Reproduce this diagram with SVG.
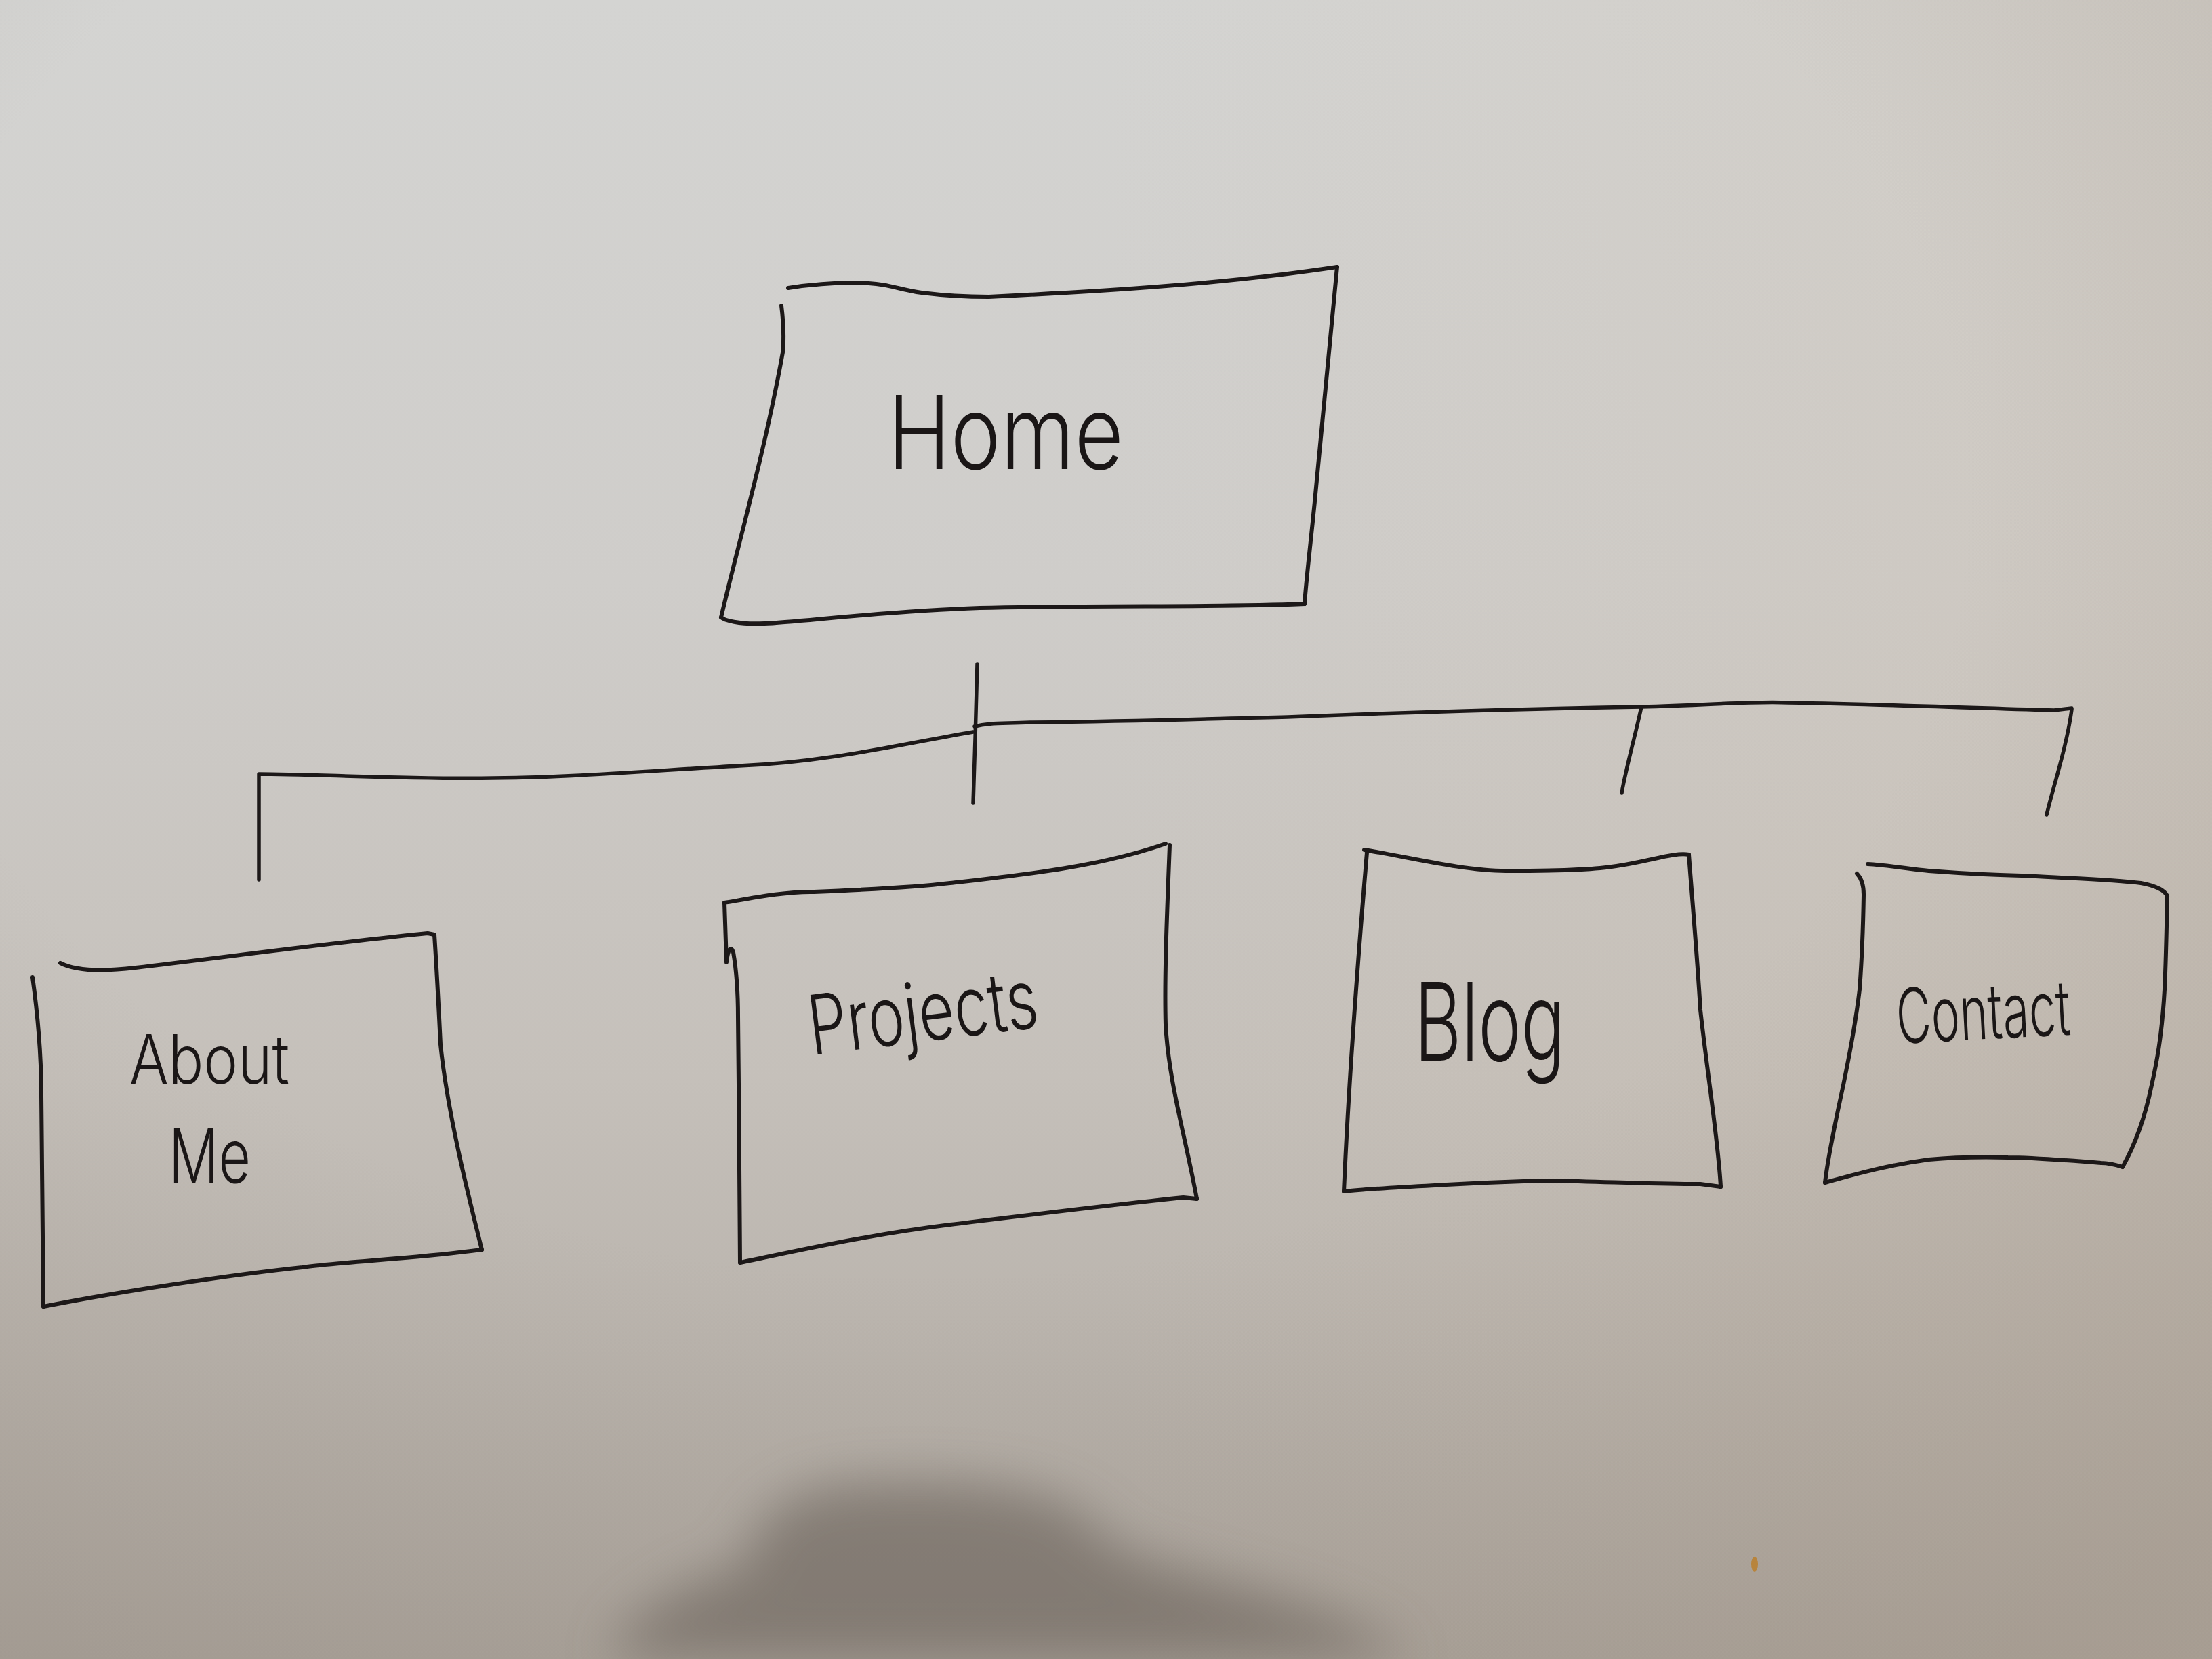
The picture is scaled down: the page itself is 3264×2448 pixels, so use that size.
<svg xmlns="http://www.w3.org/2000/svg" width="3264" height="2448" viewBox="0 0 3264 2448">
  <defs>
    <linearGradient id="paper" x1="0" y1="0" x2="0" y2="1">
      <stop offset="0" stop-color="#d4d4d2"/>
      <stop offset="0.35" stop-color="#cfcdca"/>
      <stop offset="0.65" stop-color="#c5c0ba"/>
      <stop offset="1" stop-color="#aca59d"/>
    </linearGradient>
    <radialGradient id="vignette" cx="0.42" cy="0.3" r="0.85">
      <stop offset="0.55" stop-color="#8a7f74" stop-opacity="0"/>
      <stop offset="1" stop-color="#8a7f74" stop-opacity="0.3"/>
    </radialGradient>
    <linearGradient id="warm" x1="0" y1="0" x2="1" y2="0">
      <stop offset="0.5" stop-color="#c9b8a4" stop-opacity="0"/>
      <stop offset="1" stop-color="#c9b8a4" stop-opacity="0.25"/>
    </linearGradient>
    <filter id="soft" x="-50%" y="-50%" width="200%" height="200%">
      <feGaussianBlur stdDeviation="38"/>
    </filter>
    <style>
      .ink { fill: none; stroke: #1c1818; stroke-width: 6; stroke-linecap: round; stroke-linejoin: round; }
      .wire { fill: none; stroke: #1c1818; stroke-width: 5.5; stroke-linecap: round; stroke-linejoin: round; }
      .label { fill: #1a1616; font-family: Inter, Lato, "Noto Sans", "Liberation Sans", sans-serif; font-weight: 300; }
    </style>
  </defs>

  <!-- sheet of paper with uneven lighting -->
  <rect width="3264" height="2448" fill="url(#paper)"/>
  <rect width="3264" height="2448" fill="url(#warm)"/>
  <rect width="3264" height="2448" fill="url(#vignette)"/>
  <!-- camera shadow falling on the lower edge -->
  <path d="M900,2448 C920,2390 1000,2340 1100,2310 C1110,2250 1150,2200 1250,2190 C1430,2178 1580,2195 1620,2260 C1680,2330 1950,2340 2080,2448 Z" fill="#6c635b" opacity="0.62" filter="url(#soft)"/>
  <ellipse cx="2589" cy="2308" rx="5" ry="11" fill="#b8843c"/>

  <!-- connectors -->
  <g id="connectors">
    <path class="wire" d="M1442,980 C1441,1020 1440,1060 1439,1090 C1438,1130 1437,1160 1436,1185"/>
    <path class="wire" d="M1436,1080 C1330,1098 1220,1125 1091,1130 C950,1138 820,1148 727,1148 C600,1150 460,1142 382,1142 L382,1298"/>
    <path class="wire" d="M1438,1072 C1460,1066 1480,1068 1520,1066 C1700,1064 1800,1060 1900,1058 C2100,1050 2300,1045 2422,1043 C2520,1041 2590,1034 2639,1037 C2800,1040 2950,1046 3031,1048 L3057,1045"/>
    <path class="wire" d="M2422,1043 C2412,1090 2400,1130 2393,1170"/>
    <path class="wire" d="M3057,1047 C3050,1100 3030,1160 3020,1202"/>
  </g>

  <!-- Home -->
  <g id="node-home">
    <path class="ink" d="M1163,425 C1190,421 1240,414 1293,419 C1320,422 1330,428 1360,432 C1400,437 1430,438 1459,438 C1620,430 1800,420 1973,394"/>
    <path class="ink" d="M1973,394 C1962,520 1950,640 1940,740 C1933,810 1927,860 1925,891"/>
    <path class="ink" d="M1925,891 C1820,896 1620,893 1446,897 C1300,902 1180,918 1128,920 C1090,922 1068,915 1064,911"/>
    <path class="ink" d="M1153,451 C1156,475 1157,500 1155,520 C1130,660 1090,800 1064,911"/>
    <text class="label" x="1310" y="692" font-size="150" textLength="348" lengthAdjust="spacingAndGlyphs">Home</text>
  </g>

  <!-- About Me -->
  <g id="node-about">
    <path class="ink" d="M89,1421 C110,1432 150,1434 200,1428 C350,1410 500,1390 631,1377 L641,1379"/>
    <path class="ink" d="M641,1379 C645,1440 648,1500 650,1541 C660,1640 690,1760 711,1844"/>
    <path class="ink" d="M711,1844 L695,1846 C600,1858 500,1862 446,1870 C350,1880 180,1905 64,1928"/>
    <path class="ink" d="M48,1442 C56,1500 61,1560 61,1618 C62,1720 63,1830 64,1928"/>
    <text class="label" x="191" y="1599" font-size="100" textLength="236" lengthAdjust="spacingAndGlyphs">About</text>
    <text class="label" x="249" y="1745" font-size="110" textLength="121" lengthAdjust="spacingAndGlyphs">Me</text>
  </g>

  <!-- Projects -->
  <g id="node-projects">
    <path class="ink" d="M1069,1332 C1110,1325 1160,1315 1201,1316 C1300,1312 1360,1308 1402,1303 C1500,1292 1620,1280 1720,1245"/>
    <path class="ink" d="M1726,1247 C1722,1350 1718,1440 1720,1512 C1725,1600 1750,1680 1766,1769"/>
    <path class="ink" d="M1766,1769 L1746,1767 C1620,1780 1500,1795 1402,1807 C1280,1822 1180,1845 1092,1863"/>
    <path class="ink" d="M1069,1332 L1072,1420 C1074,1400 1079,1395 1082,1405 C1088,1440 1089,1470 1089,1500 C1090,1620 1092,1750 1092,1863"/>
    <text class="label" x="1198" y="1557" font-size="122" textLength="340" lengthAdjust="spacingAndGlyphs" transform="rotate(-7 1198 1557)">Projects</text>
  </g>

  <!-- Blog -->
  <g id="node-blog">
    <path class="ink" d="M2013,1254 C2080,1265 2160,1285 2222,1285 C2300,1285 2340,1283 2361,1281 C2420,1276 2470,1256 2492,1261"/>
    <path class="ink" d="M2492,1261 C2498,1340 2505,1420 2509,1490 C2520,1590 2535,1680 2539,1751"/>
    <path class="ink" d="M2539,1751 L2509,1747 C2420,1748 2320,1740 2248,1743 C2180,1745 2150,1747 2117,1749 C2060,1752 2010,1755 1983,1758"/>
    <path class="ink" d="M2017,1258 C2005,1400 1990,1600 1983,1758"/>
    <text class="label" x="2087" y="1565" font-size="160" textLength="222" lengthAdjust="spacingAndGlyphs">Blog</text>
  </g>

  <!-- Contact -->
  <g id="node-contact">
    <path class="ink" d="M2756,1275 C2790,1277 2820,1283 2846,1285 C2900,1289 2940,1291 2983,1292 C3060,1296 3120,1298 3159,1303 C3180,1307 3194,1313 3198,1322"/>
    <path class="ink" d="M3198,1322 C3197,1370 3196,1420 3194,1460 C3190,1530 3182,1570 3175,1601 C3165,1650 3150,1690 3132,1722"/>
    <path class="ink" d="M3132,1722 C3120,1718 3110,1716 3100,1716 C3050,1712 3000,1708 2963,1708 C2920,1707 2880,1708 2846,1711 C2780,1720 2730,1735 2693,1745"/>
    <path class="ink" d="M2740,1289 C2747,1296 2750,1305 2750,1320 C2749,1380 2747,1420 2744,1460 C2737,1520 2728,1560 2720,1601 C2705,1670 2697,1710 2693,1745"/>
    <text class="label" x="2800" y="1540" font-size="112" textLength="257" lengthAdjust="spacingAndGlyphs" transform="rotate(-3 2800 1540)">Contact</text>
  </g>
</svg>
